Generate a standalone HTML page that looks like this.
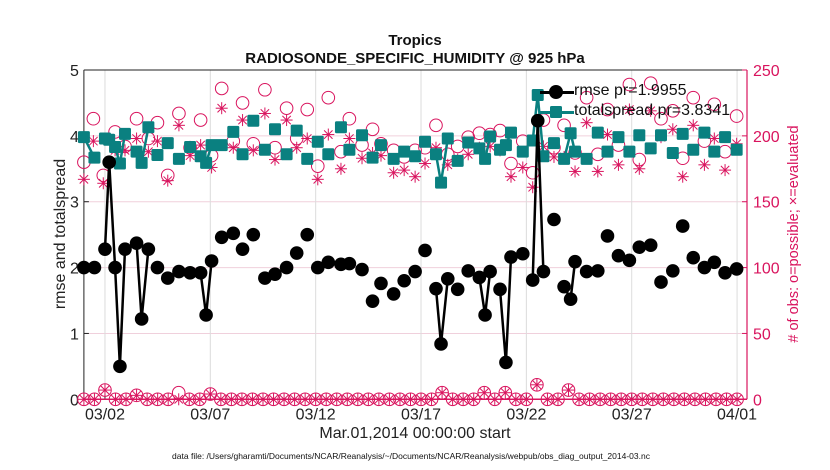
<!DOCTYPE html>
<html><head><meta charset="utf-8"><style>
body{margin:0;background:#fff;}
svg{display:block;font-family:"Liberation Sans",Arial,sans-serif;}
</style></head><body>
<svg id="chart" width="830" height="470" xmlns="http://www.w3.org/2000/svg"></svg>
<script>
// ---- data ----
const rmseDays=[0,0.5,null,1.0,1.2,1.48,1.71,1.95,null,2.5,2.74,3.06,null,3.49,null,3.98,null,4.51,null,5.04,null,5.54,5.8,6.06,null,6.54,null,7.09,null,7.53,null,8.04,null,8.59,null,9.07,null,9.62,null,10.1,null,10.6,null,11.1,null,11.6,null,12.2,null,12.6,null,13.2,null,13.7,null,14.1,null,14.7,null,15.2,null,15.72,null,16.19,null,16.71,16.95,17.27,null,17.74,null,18.24,null,18.77,19.04,19.28,null,19.75,20.03,20.27,null,20.83,null,21.3,21.54,21.81,null,22.31,null,22.79,23.1,23.31,null,23.86,null,24.39,null,24.85,null,25.37,null,25.89,null,26.36,null,26.9,null,27.39,null,27.95,null,28.42,null,28.92,null,29.45,null,29.92,null,30.43,null,30.98];
const rmseVals=[2.0,2.0,null,2.28,3.6,2.0,0.5,2.28,null,2.37,1.22,2.28,null,2.0,null,1.84,null,1.94,null,1.92,null,1.92,1.28,2.1,null,2.46,null,2.52,null,2.28,null,2.5,null,1.84,null,1.9,null,2.0,null,2.22,null,2.5,null,2.0,null,2.08,null,2.05,null,2.06,null,1.97,null,1.49,null,1.76,null,1.6,null,1.8,null,1.94,null,2.26,null,1.68,0.84,1.83,null,1.67,null,1.95,null,1.85,1.28,1.94,null,1.67,0.56,2.16,null,2.21,null,1.81,4.23,1.94,null,2.73,null,1.71,1.52,2.09,null,1.94,null,1.95,null,2.48,null,2.18,null,2.11,null,2.31,null,2.34,null,1.78,null,1.95,null,2.63,null,2.15,null,2.0,null,2.08,null,1.92,null,1.98];
const spreadVals=[3.98,3.67,null,3.96,3.94,3.83,3.58,4.03,null,3.76,3.59,4.13,null,3.71,null,3.89,null,3.65,null,3.83,null,3.69,3.59,3.86,null,3.86,null,4.06,null,3.72,null,4.23,null,3.79,null,4.1,null,3.72,null,4.08,null,3.65,null,3.91,null,3.72,null,4.13,null,3.79,null,4.01,null,3.67,null,3.86,null,3.65,null,3.76,null,3.69,null,3.91,null,3.72,3.29,3.96,null,3.62,null,3.9,null,3.81,3.65,3.99,null,3.79,3.86,4.05,null,3.76,null,3.93,4.62,3.69,null,3.89,null,3.65,4.04,3.76,null,3.65,null,4.05,null,3.76,null,3.98,null,3.76,null,4.01,null,3.81,null,4.01,null,3.74,null,4.03,null,3.79,null,4.05,null,3.76,null,3.98,null,3.79];
const obsDays=[0,0.45,0.92,1.48,1.95,2.5,3.06,3.49,3.98,4.51,5.04,5.54,6.06,6.54,7.09,7.53,8.04,8.59,9.07,9.62,10.1,10.6,11.1,11.6,12.2,12.6,13.2,13.7,14.1,14.7,15.2,15.72,16.19,16.71,17.27,17.74,18.24,18.77,19.28,19.75,20.27,20.83,21.3,21.81,22.31,22.79,23.31,23.86,24.39,24.85,25.37,25.89,26.36,26.9,27.39,27.95,28.42,28.92,29.45,29.92,30.43,30.98];
const possible=[180,213,170,203,192,213,198,210,170,217,191,212,185,236,196,225,194,235,191,221,198,220,177,229,188,213,193,205,194,189,184,189,191,208,186,192,199,202,201,204,179,196,172,212,191,208,187,229,186,220,193,239,182,240,213,219,183,229,196,224,188,215];
const evaluated=[167,196,164,189,189,198,188,196,166,208,185,193,176,221,191,212,189,217,182,212,191,198,167,201,175,198,183,187,185,172,174,169,179,191,178,182,186,191,192,189,169,176,161,192,184,184,173,210,173,201,178,220,175,219,199,205,169,208,178,198,174,194];
const lowPossible=[0,0,7,0,0,3,0,0,0,5,0,0,4,0,0,0,0,0,0,0,0,0,0,0,0,0,0,0,0,0,0,0,0,0,5,0,0,0,5,0,5,0,0,11,0,0,7,0,0,0,0,0,0,0,0,0,0,0,0,0,0,0,0];
const lowEvaluated=[0,0,7,0,0,3,0,0,0,0,0,0,4,0,0,0,0,0,0,0,0,0,0,0,0,0,0,0,0,0,0,0,0,0,5,0,0,0,5,0,5,0,0,11,0,0,7,0,0,0,0,0,0,0,0,0,0,0,0,0,0,0,0];
const leftTicks=[0,1,2,3,4,5];
const rightTicks=[0,50,100,150,200,250];
const dateTicks=[1,6,11,16,21,26,31];
const dateLabels=["03/02","03/07","03/12","03/17","03/22","03/27","04/01"];

// ---- scales ----
const X0=83.9,PXD=21.07,XR=747,YT=70,YB=399.3;
const xs=d=>X0+d*PXD;
const yl=v=>YB-(YB-YT)*v/5;
const yr=v=>YB-(YB-YT)*v/250;
const PINK="#d9145e",TEAL="#0a8080";
const svg=document.getElementById('chart');
const NS="http://www.w3.org/2000/svg";
function mk(tag,attrs,parent){const e=document.createElementNS(NS,tag);for(const k in attrs)e.setAttribute(k,attrs[k]);(parent||svg).appendChild(e);return e;}

const grid=mk('g',{});


leftTicks.forEach(t=>{if(t>0&&t<5)mk('line',{x1:X0,x2:XR,y1:yl(t),y2:yl(t),stroke:"#f0d0dc","stroke-width":1},grid);});
dateTicks.forEach(t=>{mk('line',{x1:xs(t),x2:xs(t),y1:YT,y2:YB,stroke:"#dcdcdc","stroke-width":1},grid);});

mk('line',{x1:X0,x2:XR,y1:YT,y2:YT,stroke:"#222","stroke-width":1});
mk('line',{x1:X0,x2:XR,y1:YB,y2:YB,stroke:"#222","stroke-width":1});
mk('line',{x1:X0,x2:X0,y1:YT,y2:YB,stroke:"#222","stroke-width":1});
mk('line',{x1:XR,x2:XR,y1:YT,y2:YB,stroke:PINK,"stroke-width":1.2});
leftTicks.forEach(t=>{
  mk('line',{x1:X0,x2:X0+5,y1:yl(t),y2:yl(t),stroke:"#222"});
  const tx=mk('text',{x:X0-5,y:yl(t)+6,"text-anchor":"end","font-size":16,fill:"#222"});tx.textContent=t;
  
  
});
rightTicks.forEach(t=>{
  mk('line',{x1:XR-5,x2:XR,y1:yr(t),y2:yr(t),stroke:PINK});
  const tx=mk('text',{x:XR+6,y:yr(t)+6,"font-size":16,fill:PINK});tx.textContent=t;
  
  
});
dateTicks.forEach((t,i)=>{
  mk('line',{x1:xs(t),x2:xs(t),y1:YB-5,y2:YB,stroke:"#222"});
  const tx=mk('text',{x:xs(t),y:YB+20,"text-anchor":"middle","font-size":16,fill:"#222"});tx.textContent=dateLabels[i];
  
  
});

function circle(g,x,y){mk('circle',{cx:x,cy:y,r:6.3,fill:"none",stroke:PINK,"stroke-width":1},g);}
function star(g,x,y){const s=6;[[s,0],[0,s],[s*0.7,s*0.7],[s*0.7,-s*0.7]].forEach(([a,b])=>mk('line',{x1:x-a,y1:y-b,x2:x+a,y2:y+b,stroke:PINK,"stroke-width":1},g));}
const obsG=mk('g',{});


obsDays.forEach((d,i)=>{circle(obsG,xs(d),yr(possible[i]));star(obsG,xs(d),yr(evaluated[i]));});
lowPossible.forEach((v,i)=>{circle(obsG,xs(i*0.5),yr(v));star(obsG,xs(i*0.5),yr(lowEvaluated[i]));});
mk('line',{x1:X0,x2:XR,y1:YB,y2:YB,stroke:PINK,"stroke-width":1.5});

function pathFor(vals){let d="",pen=false;rmseDays.forEach((t,i)=>{const v=vals[i];if(t===null||v===null){pen=false;return;}d+=(pen?"L":"M")+xs(t).toFixed(1)+" "+yl(v).toFixed(1);pen=true;});return d;}
const spreadG=mk('g',{});


mk('path',{d:pathFor(spreadVals),fill:"none",stroke:TEAL,"stroke-width":2.5},spreadG);
rmseDays.forEach((t,i)=>{if(t===null||spreadVals[i]===null)return;mk('rect',{x:xs(t)-6,y:yl(spreadVals[i])-6,width:12,height:12,rx:1.5,fill:TEAL},spreadG);});
const rmseG=mk('g',{});


mk('path',{d:pathFor(rmseVals),fill:"none",stroke:"#000","stroke-width":2.5},rmseG);
rmseDays.forEach((t,i)=>{if(t===null||rmseVals[i]===null)return;mk('circle',{cx:xs(t),cy:yl(rmseVals[i]),r:6.8,fill:"#000"},rmseG);});
</script>
<div style="position:absolute;left:0;top:0;width:830px;height:470px;pointer-events:none;font-family:'Liberation Sans',Arial,sans-serif;">
  <div style="position:absolute;left:0;width:830px;top:32px;text-align:center;font-weight:bold;font-size:15px;color:#111;line-height:18px;">Tropics<br>RADIOSONDE_SPECIFIC_HUMIDITY @ 925 hPa</div>
  <div style="position:absolute;left:538px;top:82px;width:200px;height:42px;">
    <div style="position:absolute;left:0;top:0;height:20px;width:200px;">
      <div style="position:absolute;left:2px;top:9px;width:34px;height:2.5px;background:#000"></div>
      <div style="position:absolute;left:11px;top:3px;width:14px;height:14px;border-radius:50%;background:#000"></div>
      <span style="position:absolute;left:36px;top:0;font-size:16px;color:#111;">rmse pr=1.9955</span>
    </div>
    <div style="position:absolute;left:0;top:20px;height:20px;width:200px;">
      <div style="position:absolute;left:2px;top:9px;width:34px;height:2.5px;background:#0a8080"></div>
      <div style="position:absolute;left:12px;top:4px;width:12px;height:12px;border-radius:1.5px;background:#0a8080"></div>
      <span style="position:absolute;left:36px;top:0;font-size:16px;color:#111;">totalspread pr=3.8341</span>
    </div>
  </div>
  <div style="position:absolute;left:61px;top:234px;transform:translate(-50%,-50%) rotate(-90deg);white-space:nowrap;font-size:16px;color:#222;">rmse and totalspread</div>
  <div style="position:absolute;left:794px;top:234px;transform:translate(-50%,-50%) rotate(-90deg);white-space:nowrap;font-size:14.5px;color:#d9145e;"># of obs: o=possible; ×=evaluated</div>
  <div style="position:absolute;left:0;width:830px;top:425px;text-align:center;font-size:16px;color:#222;">Mar.01,2014 00:00:00 start</div>
  <div style="position:absolute;left:0;width:822px;top:451px;text-align:center;font-size:8.5px;color:#111;">data file: /Users/gharamti/Documents/NCAR/Reanalysis/~/Documents/NCAR/Reanalysis/webpub/obs_diag_output_2014-03.nc</div>
</div>
</body></html>
